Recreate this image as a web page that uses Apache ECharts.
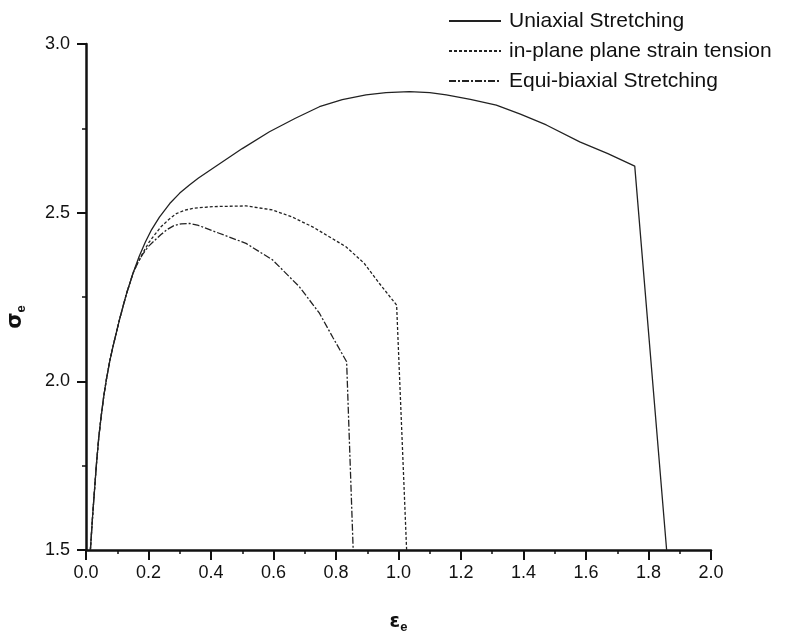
<!DOCTYPE html>
<html>
<head>
<meta charset="utf-8">
<script src="https://cdn.jsdelivr.net/npm/echarts@6/dist/echarts.min.js"></script>
<style>
  html, body { margin: 0; padding: 0; background: #fff; }
  #main { width: 803px; height: 635px; }
</style>
</head>
<body>
<div id="main"></div>
<script>
// series names (legend order)
const seriesNames = [
  "Uniaxial Stretching",
  "in-plane plane strain tension",
  "Equi-biaxial Stretching",
];

// [strain, stress]
const uniaxial = [
  [0.014, 1.5], [0.022, 1.612], [0.033, 1.75], [0.041, 1.835], [0.049, 1.9],
  [0.057, 1.957], [0.065, 2.004], [0.076, 2.06], [0.087, 2.106], [0.108, 2.186],
  [0.129, 2.258], [0.151, 2.322], [0.17, 2.37], [0.19, 2.413], [0.21, 2.45],
  [0.235, 2.487], [0.268, 2.527], [0.3, 2.558], [0.332, 2.583], [0.36, 2.603],
  [0.405, 2.631], [0.5, 2.69], [0.587, 2.74], [0.67, 2.78], [0.747, 2.814],
  [0.82, 2.835], [0.896, 2.849], [0.96, 2.856], [1.035, 2.859], [1.1, 2.856],
  [1.153, 2.849], [1.23, 2.836], [1.313, 2.819], [1.39, 2.792], [1.473, 2.76],
  [1.58, 2.71], [1.67, 2.675], [1.756, 2.638], [1.858, 1.5],
];

const planeStrain = [
  [0.014, 1.5], [0.022, 1.612], [0.033, 1.75], [0.041, 1.835], [0.049, 1.9],
  [0.057, 1.957], [0.065, 2.004], [0.076, 2.06], [0.087, 2.106], [0.108, 2.186],
  [0.129, 2.258], [0.151, 2.322], [0.165, 2.35], [0.18, 2.377], [0.2, 2.41],
  [0.22, 2.435], [0.24, 2.458], [0.265, 2.48], [0.289, 2.497], [0.315, 2.507],
  [0.343, 2.513], [0.405, 2.518], [0.512, 2.52], [0.597, 2.508], [0.66, 2.487],
  [0.725, 2.458], [0.832, 2.399], [0.89, 2.35], [0.939, 2.29], [0.994, 2.226],
  [1.026, 1.5],
];

const equiBiaxial = [
  [0.014, 1.5], [0.022, 1.612], [0.033, 1.75], [0.041, 1.835], [0.049, 1.9],
  [0.057, 1.957], [0.065, 2.004], [0.076, 2.06], [0.087, 2.106], [0.108, 2.186],
  [0.129, 2.258], [0.151, 2.322], [0.165, 2.35], [0.18, 2.375], [0.2, 2.4],
  [0.22, 2.418], [0.24, 2.435], [0.26, 2.45], [0.28, 2.461], [0.305, 2.467],
  [0.332, 2.468], [0.36, 2.462], [0.426, 2.439], [0.512, 2.409], [0.597, 2.36],
  [0.683, 2.28], [0.747, 2.202], [0.79, 2.13], [0.834, 2.058], [0.855, 1.5],
];

const lineTypes = ["solid", [3, 2], [7, 2, 2, 2]];
const dataSets = [uniaxial, planeStrain, equiBiaxial];

const chart = echarts.init(document.getElementById("main"), null, { renderer: "canvas" });

const font = "Liberation Sans, Arial, sans-serif";
const axisFont = { fontFamily: font, fontSize: 18, color: "#111" };

const option = {
  animation: false,
  backgroundColor: "#fff",
  grid: { left: 86, right: 92, top: 44, bottom: 85, outerBoundsMode: "none", containLabel: false },
  legend: {
    orient: "vertical",
    left: 443,
    top: 5,
    itemWidth: 52,
    itemHeight: 14,
    itemGap: 8,
    itemStyle: { opacity: 0 },
    textStyle: { fontFamily: font, fontSize: 21, color: "#111", lineHeight: 22, padding: [0, 0, 0, 3] },
    data: seriesNames,
  },
  xAxis: {
    type: "value",
    min: 0,
    max: 2.0,
    interval: 0.2,
    name: "{m|ε}{s|e}",
    nameLocation: "middle",
    nameGap: 60,
    nameTextStyle: {
      rich: {
        m: { fontFamily: "DejaVu Sans, sans-serif", fontSize: 19, fontWeight: "bold", color: "#111" },
        s: { fontFamily: font, fontSize: 13, fontWeight: "bold", color: "#111", padding: [11, 0, 0, 0] },
      },
    },
    axisLine: { lineStyle: { color: "#111", width: 2.5 } },
    axisTick: { inside: false, length: 10, lineStyle: { color: "#111", width: 2 } },
    minorTick: { show: true, splitNumber: 2, length: 4, lineStyle: { color: "#111", width: 1.5 } },
    splitLine: { show: false },
    axisLabel: Object.assign({ margin: 14, formatter: (v) => v.toFixed(1) }, axisFont),
  },
  yAxis: {
    type: "value",
    min: 1.5,
    max: 3.0,
    interval: 0.5,
    name: "{m|σ}{s|e}",
    nameLocation: "middle",
    nameGap: 58,
    nameRotate: 90,
    nameTextStyle: {
      padding: [0, 40, 0, 0],
      rich: {
        m: { fontFamily: "DejaVu Sans, sans-serif", fontSize: 21, fontWeight: "bold", color: "#111" },
        s: { fontFamily: font, fontSize: 13, fontWeight: "bold", color: "#111", padding: [11, 0, 0, 0] },
      },
    },
    axisLine: { show: true, lineStyle: { color: "#111", width: 2.5 } },
    axisTick: { show: true, inside: false, length: 9, lineStyle: { color: "#111", width: 2 } },
    minorTick: { show: true, splitNumber: 2, length: 4, lineStyle: { color: "#111", width: 1.5 } },
    splitLine: { show: false },
    axisLabel: Object.assign({ margin: 16, formatter: (v) => v.toFixed(1) }, axisFont),
  },
  series: dataSets.map((d, i) => ({
    name: seriesNames[i],
    type: "line",
    data: d,
    symbol: "none",
    smooth: false,
    lineStyle: { color: "#222", width: 1.3, type: lineTypes[i] },
    itemStyle: { color: "#222" },
  })),
};

chart.setOption(option);
</script>
</body>
</html>
